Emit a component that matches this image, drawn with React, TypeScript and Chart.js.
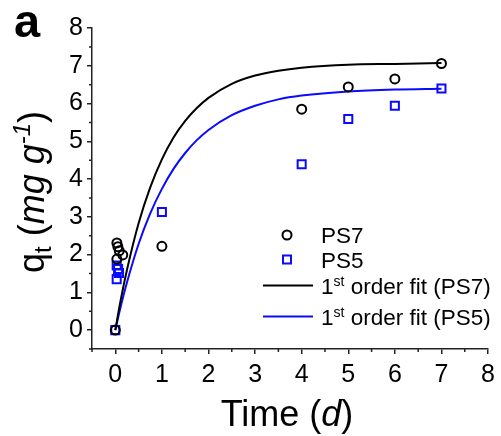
import React, { useEffect, useRef } from "react";
import { Chart, registerables } from "chart.js";
Chart.register(...registerables);

// ---- data ----
const ps7Time = [0, 0.034, 0.055, 0.085, 0.16, 0.034, 1, 4, 5, 6, 7];
const ps7Qt = [0, 2.31, 2.21, 2.1, 1.99, 1.88, 2.22, 5.85, 6.44, 6.65, 7.06];
const ps5Time = [0, 0.03, 0.06, 0.08, 0.03, 1, 4, 5, 6, 7];
const ps5Qt = [0, 1.71, 1.62, 1.51, 1.35, 3.13, 4.39, 5.59, 5.94, 6.4];
const fitTime = [0, 0.1, 0.25, 0.5, 0.75, 1, 1.25, 1.5, 1.75, 2, 2.5, 3, 3.5, 4, 5, 6, 7];
const fitPS7 = [0, 0.69, 1.59, 2.83, 3.78, 4.52, 5.1, 5.54, 5.88, 6.15, 6.52, 6.74, 6.87, 6.95, 7.03, 7.05, 7.07];
const fitPS5 = [0, 0.54, 1.26, 2.28, 3.09, 3.74, 4.27, 4.69, 5.03, 5.3, 5.69, 5.94, 6.11, 6.21, 6.32, 6.37, 6.39];
const xTicks = [0, 1, 2, 3, 4, 5, 6, 7, 8];
const yTicks = [0, 1, 2, 3, 4, 5, 6, 7, 8];
const xMinor = [-0.5, 0.5, 1.5, 2.5, 3.5, 4.5, 5.5, 6.5, 7.5];
const yMinor = [-0.5, 0.5, 1.5, 2.5, 3.5, 4.5, 5.5, 6.5, 7.5];
const legendLabels = ["PS7", "PS5", "order fit (PS7)", "order fit (PS5)"];

const FONT = "'Liberation Sans', Arial, Helvetica, sans-serif";
const AXIS = "#222";
const BLUE = "#0a0aff";

type Seg = { t: string; size: number; italic?: boolean; bold?: boolean; dy?: number };

function segFont(s: Seg) {
  return `${s.italic ? "italic " : ""}${s.bold ? "bold " : ""}${s.size}px ${FONT}`;
}
function segWidth(ctx: CanvasRenderingContext2D, segs: Seg[]) {
  let w = 0;
  for (const s of segs) {
    ctx.font = segFont(s);
    w += ctx.measureText(s.t).width;
  }
  return w;
}
function drawSegs(ctx: CanvasRenderingContext2D, segs: Seg[], x: number, y: number) {
  let cx = x;
  for (const s of segs) {
    ctx.font = segFont(s);
    ctx.fillText(s.t, cx, y + (s.dy || 0));
    cx += ctx.measureText(s.t).width;
  }
}

const decor = {
  id: "decor",
  afterDraw(chart: any) {
    const ctx: CanvasRenderingContext2D = chart.ctx;
    const xs = chart.scales.x;
    const ys = chart.scales.y;
    const { left, bottom } = chart.chartArea;
    ctx.save();
    ctx.strokeStyle = AXIS;
    ctx.lineWidth = 1.5;
    ctx.beginPath();
    for (const v of xMinor) {
      const px = xs.getPixelForValue(v);
      ctx.moveTo(px, bottom);
      ctx.lineTo(px, bottom + 3);
    }
    for (const v of yMinor) {
      const py = ys.getPixelForValue(v);
      ctx.moveTo(left - 3, py);
      ctx.lineTo(left, py);
    }
    ctx.stroke();

    ctx.fillStyle = "#000";
    ctx.textBaseline = "alphabetic";
    ctx.textAlign = "left";

    // panel letter
    drawSegs(ctx, [{ t: "a", size: 47, bold: true }], 14, 37);

    // x title
    const xt: Seg[] = [
      { t: "Time (", size: 36 },
      { t: "d", size: 36, italic: true },
      { t: ")", size: 36 },
    ];
    const xw = segWidth(ctx, xt);
    drawSegs(ctx, xt, 287 - xw / 2, 426);

    // y title
    const yt: Seg[] = [
      { t: "q", size: 36 },
      { t: "t", size: 24, dy: 7 },
      { t: " (", size: 36 },
      { t: "mg g", size: 36, italic: true },
      { t: "-1", size: 24, italic: true, dy: -14 },
      { t: ")", size: 36 },
    ];
    const yw = segWidth(ctx, yt);
    ctx.save();
    ctx.translate(44, 192);
    ctx.rotate(-Math.PI / 2);
    drawSegs(ctx, yt, -yw / 2, 0);
    ctx.restore();

    // legend
    const mx = 287;
    const tx = 321;
    const rows = [235, 259.5, 285.5, 316.5];
    ctx.lineWidth = 2;
    ctx.strokeStyle = "#000";
    ctx.beginPath();
    ctx.arc(mx, rows[0], 4.5, 0, Math.PI * 2);
    ctx.stroke();
    ctx.strokeStyle = BLUE;
    ctx.strokeRect(mx - 4, rows[1] - 4, 8, 8);
    ctx.beginPath();
    ctx.strokeStyle = "#000";
    ctx.moveTo(263, rows[2]);
    ctx.lineTo(313, rows[2]);
    ctx.stroke();
    ctx.beginPath();
    ctx.strokeStyle = BLUE;
    ctx.moveTo(263, rows[3]);
    ctx.lineTo(313, rows[3]);
    ctx.stroke();

    ctx.fillStyle = "#000";
    const LS = 22.5;
    drawSegs(ctx, [{ t: legendLabels[0], size: LS }], tx, rows[0] + 8);
    drawSegs(ctx, [{ t: legendLabels[1], size: LS }], tx, rows[1] + 8);
    drawSegs(
      ctx,
      [
        { t: "1", size: LS },
        { t: "st", size: 14, dy: -8 },
        { t: " " + legendLabels[2], size: LS },
      ],
      tx,
      rows[2] + 8
    );
    drawSegs(
      ctx,
      [
        { t: "1", size: LS },
        { t: "st", size: 14, dy: -8 },
        { t: " " + legendLabels[3], size: LS },
      ],
      tx,
      rows[3] + 8
    );
    ctx.restore();
  },
};

export default function App() {
  const ref = useRef<HTMLCanvasElement>(null);
  useEffect(() => {
    document.body.style.margin = "0";
    const canvas = ref.current!;
    const pts = (xs: number[], ys: number[]) => xs.map((x, i) => ({ x, y: ys[i] }));
    const tickFont = { family: FONT, size: 25 };
    const chart = new Chart(canvas, {
      type: "scatter",
      data: {
        datasets: [
          {
            label: "PS7",
            data: pts(ps7Time, ps7Qt),
            pointStyle: "circle",
            pointRadius: 4.5,
            borderWidth: 2,
            borderColor: "#000",
            backgroundColor: "rgba(0,0,0,0)",
            order: 0,
          },
          {
            label: "PS5",
            data: pts(ps5Time, ps5Qt),
            pointStyle: "rect",
            pointRadius: 5.7,
            borderWidth: 2,
            borderColor: BLUE,
            backgroundColor: "rgba(0,0,0,0)",
            order: 0,
          },
          {
            label: "1st order fit (PS7)",
            data: pts(fitTime, fitPS7),
            showLine: true,
            pointRadius: 0,
            borderWidth: 2,
            borderColor: "#000",
            cubicInterpolationMode: "monotone",
            order: 1,
          },
          {
            label: "1st order fit (PS5)",
            data: pts(fitTime, fitPS5),
            showLine: true,
            pointRadius: 0,
            borderWidth: 2,
            borderColor: BLUE,
            cubicInterpolationMode: "monotone",
            order: 1,
          },
        ],
      } as any,
      options: {
        responsive: false,
        animation: false,
        clip: false as any,
        layout: { padding: { top: 28, right: 8, left: 0, bottom: 0 } },
        plugins: { legend: { display: false }, tooltip: { enabled: false } },
        scales: {
          x: {
            type: "linear",
            min: -0.5,
            max: 8,
            afterBuildTicks: (s: any) => {
              s.ticks = xTicks.map((v) => ({ value: v }));
            },
            afterFit: (s: any) => {
              s.height = 87;
            },
            grid: { display: true, drawOnChartArea: false, drawTicks: true, tickLength: 5, color: AXIS, lineWidth: 1.5 },
            border: { display: true, color: AXIS, width: 1.5 },
            ticks: { font: tickFont, color: "#000", padding: 6, maxRotation: 0, autoSkip: false },
          },
          y: {
            type: "linear",
            min: -0.5,
            max: 8,
            afterBuildTicks: (s: any) => {
              s.ticks = yTicks.map((v) => ({ value: v }));
            },
            afterFit: (s: any) => {
              s.width = 92;
            },
            grid: { display: true, drawOnChartArea: false, drawTicks: true, tickLength: 5, color: AXIS, lineWidth: 1.5 },
            border: { display: true, color: AXIS, width: 1.5 },
            ticks: { font: tickFont, color: "#000", padding: 4, autoSkip: false },
          },
        },
      },
      plugins: [decor],
    });
    return () => chart.destroy();
  }, []);
  return (
    <div style={{ position: "absolute", left: 0, top: 0, width: 501, height: 436 }}>
      <canvas ref={ref} width={501} height={436} style={{ display: "block" }} />
    </div>
  );
}
